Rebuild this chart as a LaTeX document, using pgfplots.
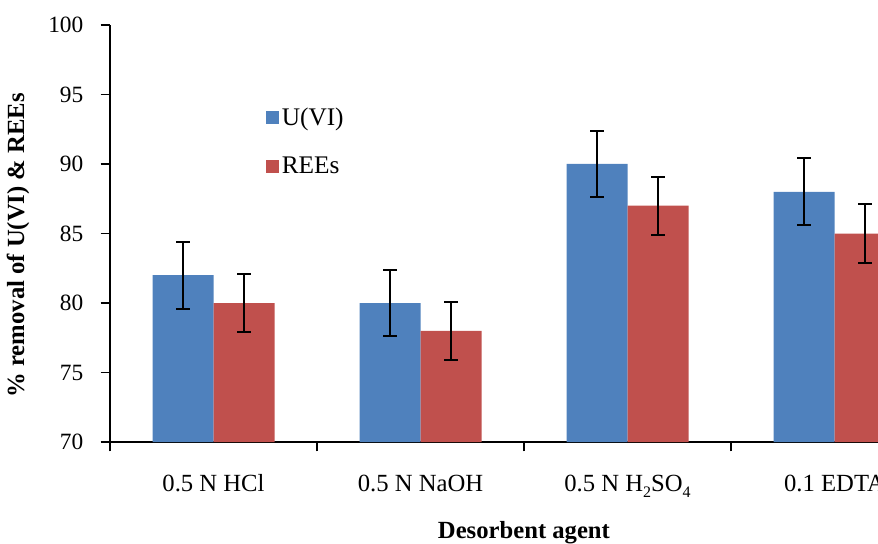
\documentclass[border=0pt]{standalone}
\usepackage{pgfplots}
\pgfplotsset{compat=1.18}
\usepackage{fontspec}
\setmainfont{Liberation Serif}
\definecolor{uvi}{HTML}{4F81BD}
\definecolor{rees}{HTML}{C0504D}
\begin{document}
\begin{tikzpicture}
\path[use as bounding box] (-82.5pt,-75.75pt) rectangle (576pt,331.5pt);
\begin{axis}[
 at={(0,0)}, anchor=south west,
 scale only axis, width=576pt, height=312.75pt,
 ybar=0pt, bar width=45.75pt,
 xmin=-0.5, xmax=3.21, ymin=70, ymax=100,
 axis x line=bottom, axis y line=left,
 axis line style={-, line width=1.3pt, black},
 tick align=outside, major tick length=7pt,
 tick style={black, line width=1.3pt},
 ytick={70,75,...,100},
 xtick={-0.5,0.5,1.5,2.5}, xticklabels={},
 extra x ticks={0,1,2,3},
 extra x tick labels={0.5 N HCl, 0.5 N NaOH, {0.5 N H\raisebox{-5pt}{\fontsize{12}{12}\selectfont 2}SO\raisebox{-5pt}{\fontsize{12}{12}\selectfont 4}}, 0.1 EDTA},
 extra x tick style={major tick length=0pt, tick style={draw=none},
   xticklabel style={anchor=base, yshift=-36.75pt, font=\fontsize{18.5}{18.5}\selectfont}},
 /pgf/number format/assume math mode=true,
 yticklabel style={font=\fontsize{17.5}{17.5}\selectfont, xshift=-9.5pt},
 ylabel={\% removal of U(VI) \& REEs},
 ylabel style={at={(axis description cs:0,0.472)}, anchor=center, yshift=69pt, font=\bfseries\fontsize{18.5}{18.5}\selectfont},
 xlabel={Desorbent agent},
 xlabel style={at={(axis description cs:0.539,0)}, anchor=base, yshift=-72pt, font=\bfseries\fontsize{18.5}{18.5}\selectfont},
 legend style={at={(axis description cs:0.2025,0.808)}, anchor=north west, draw=none, fill=none,
   font=\fontsize{19}{19}\selectfont, row sep=18pt, inner sep=0pt},
 legend cell align=left,
]
\addplot[fill=uvi, draw=none,
 legend image code/.code={\fill[uvi] (-3.5pt,-4.8pt) rectangle (6.5pt,4.8pt);},
 error bars/.cd, y dir=both, y explicit,
 error bar style={line width=1.5pt, black},
 error mark options={rotate=90, mark size=5pt, line width=1.5pt, black}]
 coordinates {(0,82) +- (0,2.4) (1,80) +- (0,2.4) (2,90) +- (0,2.4) (3,88) +- (0,2.4)};
\addlegendentry{U(VI)}
\addplot[fill=rees, draw=none,
 legend image code/.code={\fill[rees] (-3.5pt,-4.8pt) rectangle (6.5pt,4.8pt);},
 error bars/.cd, y dir=both, y explicit,
 error bar style={line width=1.5pt, black},
 error mark options={rotate=90, mark size=5pt, line width=1.5pt, black}]
 coordinates {(0,80) +- (0,2.1) (1,78) +- (0,2.1) (2,87) +- (0,2.1) (3,85) +- (0,2.1)};
\addlegendentry{REEs}
\end{axis}
\end{tikzpicture}
\end{document}
